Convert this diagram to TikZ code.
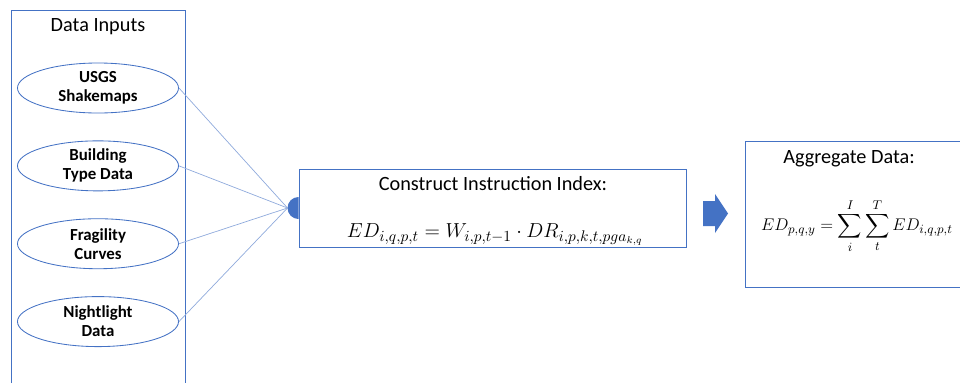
\documentclass[tikz,border=0pt]{standalone}
\usepackage{amsmath}
\usepackage{fontspec}
\setmainfont{Carlito}
\usetikzlibrary{arrows.meta, positioning, shapes, calc}
\definecolor{FlowBlue}{RGB}{68, 114, 196}
\definecolor{LinkBlue}{RGB}{143, 170, 220}

\begin{document}
\begin{tikzpicture}[
    x=0.025cm, y=-0.025cm,
    node distance=0.675cm,
    every node/.style={align=center, font=\fontsize{14.4}{17}\selectfont},
    source/.style={ellipse, draw=FlowBlue, line width=0.6pt, inner sep=0pt,
                   minimum width=4.025cm, minimum height=1.25cm,
                   font=\fontsize{12}{13.5}\selectfont\bfseries},
    panel/.style={draw=FlowBlue, line width=0.6pt,
                  minimum width=9.675cm, minimum height=1.95cm},
    link/.style={draw=LinkBlue, line width=0.5pt}
]
\useasboundingbox (0,0) rectangle (960,383);

% data inputs column
\draw[FlowBlue, line width=0.6pt] (11,383) -- (11,10) -- (185,10) -- (185,383);
\node (intitle) at (98,27) {Data Inputs};
\node[source] (s1) at (98,88) {USGS\\Shakemaps};
\node[source, below=of s1] (s2) {Building\\Type Data};
\node[source, below=of s2] (s3) {Fragility\\Curves};
\node[source, below=of s3] (s4) {Nightlight\\Data};

% index construction
\node[panel] (idx) at (492.5,208) {};
\node (idxtitle) at (493,184) {Construct Instruction Index:};
\node (idxeq) at (495,235) {\fontsize{15}{17}\selectfont$ED_{i,q,p,t} = W_{i,p,t-1}\cdot DR_{i,p,k,t,pga_{k,q}}$};
\fill[FlowBlue] (idx.west) ++(0,-11) arc[start angle=90, end angle=270, radius=0.275cm] -- cycle;
\coordinate (hub) at ([xshift=-0.275cm]idx.west);
\foreach \s in {s1,s2,s3,s4}
  \draw[link] (\s.east) -- (hub);

% aggregation
\fill[FlowBlue] (703,201) -- (715,201) -- (715,194) -- (728,213.5)
  -- (715,233) -- (715,226) -- (703,226) -- cycle;
\draw[FlowBlue, line width=0.6pt] (962,141) -| (745,287) -- (962,287);
\node (aggtitle) at (849,159) {Aggregate Data:};
\node[inner sep=0pt] (aggeq) at (857,226) {\fontsize{13}{15}\selectfont$\displaystyle ED_{p,q,y} = \sum_{i}^{I}\sum_{t}^{T} ED_{i,q,p,t}$};
\end{tikzpicture}
\end{document}
